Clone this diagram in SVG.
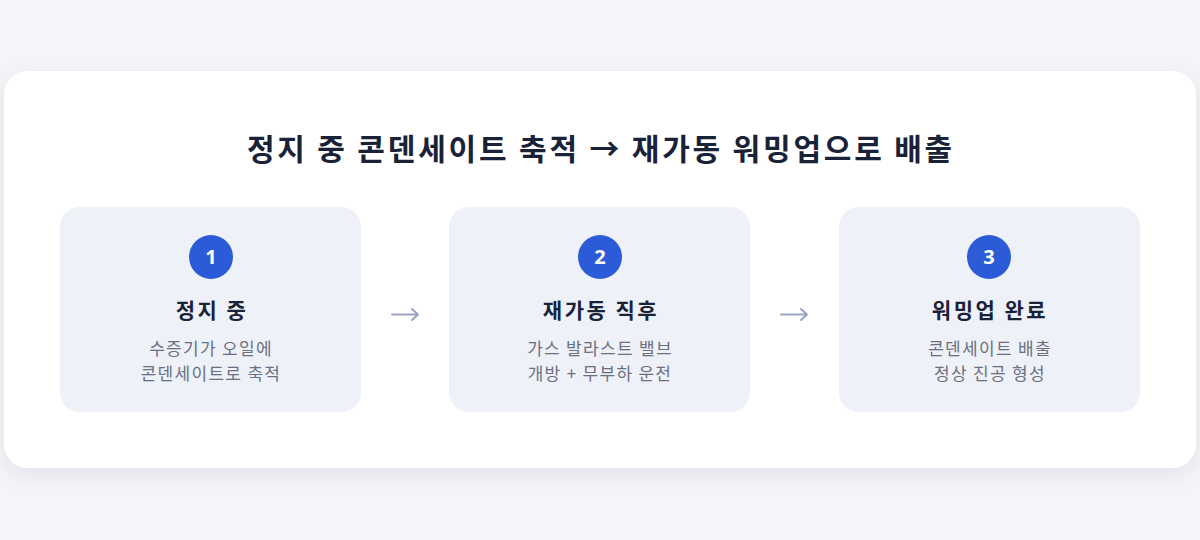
<svg xmlns="http://www.w3.org/2000/svg" width="1200" height="540" viewBox="0 0 1200 540">
<defs>
<filter id="sh" x="-10%" y="-10%" width="120%" height="130%">
<feDropShadow dx="0" dy="6" stdDeviation="10" flood-color="#1a2238" flood-opacity="0.08"/>
</filter>
<style>
.t{font-family:"Noto Sans CJK KR","Noto Sans",sans-serif;text-anchor:middle}
.h{font-size:30px;font-weight:700;fill:#1a2238;letter-spacing:2.8px}
.st{font-size:21px;font-weight:700;fill:#1a2238;letter-spacing:2.5px}
.d{font-size:17px;fill:#6b7080;letter-spacing:1.3px}
.n{font-size:20px;font-weight:700;fill:#ffffff;font-family:"Open Sans","Noto Sans",sans-serif;text-anchor:middle}
.box{fill:#eef1f8}
.c{fill:#2b5bd7}
.ar{fill:none;stroke:#9aa5c0;stroke-width:2;stroke-linecap:round;stroke-linejoin:round}
</style>
</defs>
<rect width="1200" height="540" fill="#f4f5f9"/>
<rect x="4" y="71" width="1192" height="397" rx="24" fill="#ffffff" filter="url(#sh)"/>
<text class="t h" x="601" y="160">정지 중 콘덴세이트 축적 → 재가동 워밍업으로 배출</text>
<g id="step1">
<rect class="box" x="60" y="207" width="301" height="205" rx="20"/>
<circle class="c" cx="211" cy="257" r="22"/>
<text class="n" x="211" y="264">1</text>
<text class="t st" x="212" y="318">정지 중</text>
<text class="t d" x="211" y="355">수증기가 오일에</text>
<text class="t d" x="211" y="380">콘덴세이트로 축적</text>
</g>
<g id="step2">
<rect class="box" x="449" y="207" width="301" height="205" rx="20"/>
<circle class="c" cx="600" cy="257" r="22"/>
<text class="n" x="600" y="264">2</text>
<text class="t st" x="601" y="318">재가동 직후</text>
<text class="t d" x="600" y="355">가스 발라스트 밸브</text>
<text class="t d" x="600" y="380">개방 + 무부하 운전</text>
</g>
<g id="step3">
<rect class="box" x="839" y="207" width="301" height="205" rx="20"/>
<circle class="c" cx="989" cy="257" r="22"/>
<text class="n" x="989" y="264">3</text>
<text class="t st" x="990" y="318">워밍업 완료</text>
<text class="t d" x="990" y="355">콘덴세이트 배출</text>
<text class="t d" x="990" y="380">정상 진공 형성</text>
</g>
<g id="connectors">
<path class="ar" d="M392 314.5 H418 M412 309 L418 314.5 L412 320"/>
<path class="ar" d="M781 314.5 H807 M801 309 L807 314.5 L801 320"/>
</g>
</svg>
